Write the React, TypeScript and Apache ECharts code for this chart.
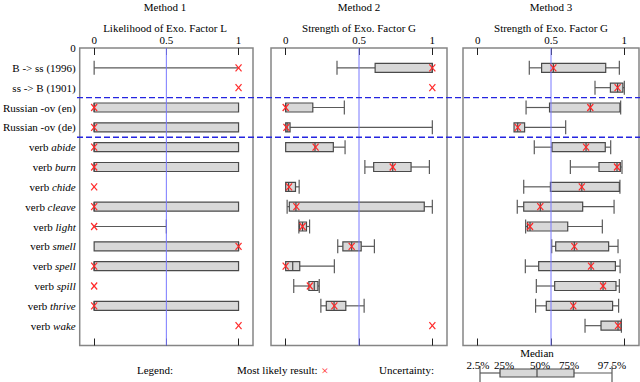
import React, { useEffect, useRef } from "react";
import * as echarts from "echarts";

const FONT = '"Liberation Serif", "Times New Roman", serif';

// Row labels (top to bottom)
const rowLabels = [
  "B -> ss (1996)",
  "ss -> B (1901)",
  "Russian -ov (en)",
  "Russian -ov (de)",
  "verb abide",
  "verb burn",
  "verb chide",
  "verb cleave",
  "verb light",
  "verb smell",
  "verb spell",
  "verb spill",
  "verb thrive",
  "verb wake",
];

const methodTitles = ["Method 1", "Method 2", "Method 3"];
const axisTitles = [
  "Likelihood of Exo. Factor L",
  "Strength of Exo. Factor G",
  "Strength of Exo. Factor G",
];
const xTickValues = [0, 0.5, 1];

// [2.5%, 25%, 50%, 75%, 97.5%]
const method1Boxes = [
  [0, 1, 1, 1, 1],
  [1, 1, 1, 1, 1],
  [0, 0, 0, 1, 1],
  [0, 0, 0, 1, 1],
  [0, 0, 0, 1, 1],
  [0, 0, 0, 1, 1],
  [0, 0, 0, 0, 0],
  [0, 0, 0, 1, 1],
  [0, 0, 0, 0, 0.5],
  [0, 0, 1, 1, 1],
  [0, 0, 0, 1, 1],
  [0, 0, 0, 0, 0],
  [0, 0, 0, 1, 1],
  [1, 1, 1, 1, 1],
];
const method1Best = [1, 1, 0, 0, 0, 0, 0, 0, 0, 1, 0, 0, 0, 1];

const method2Boxes = [
  [0.35, 0.61, 1, 1, 1],
  [1, 1, 1, 1, 1],
  [0, 0, 0, 0.185, 0.4],
  [0, 0, 0.01, 0.03, 1],
  [0, 0, 0.2, 0.325, 0.405],
  [0.54, 0.6, 0.73, 0.855, 0.98],
  [0, 0, 0.02, 0.067, 0.092],
  [0.01, 0.025, 0.07, 0.945, 1.0],
  [0.09, 0.094, 0.115, 0.142, 0.163],
  [0.355, 0.39, 0.45, 0.515, 0.605],
  [0, 0, 0.048, 0.096, 0.332],
  [0.055, 0.158, 0.195, 0.22, 0.229],
  [0.24, 0.277, 0.33, 0.41, 0.535],
  [1, 1, 1, 1, 1],
];
const method2Best = [1, 1, 0, 0.005, 0.204, 0.73, 0.023, 0.073, 0.115, 0.45, 0, 0.165, 0.332, 1];

const method3Boxes = [
  [0.352, 0.436, 0.516, 0.873, 0.966],
  [0.8, 0.905, 0.954, 0.99, 1.0],
  [0.33, 0.49, 0.768, 0.97, 0.975],
  [0.248, 0.248, 0.273, 0.32, 0.6],
  [0.386, 0.507, 0.739, 0.87, 0.907],
  [0.632, 0.827, 0.95, 0.973, 0.984],
  [0.314, 0.496, 0.71, 0.966, 0.97],
  [0.27, 0.314, 0.427, 0.716, 0.93],
  [0.327, 0.339, 0.357, 0.614, 0.85],
  [0.505, 0.532, 0.659, 0.893, 0.957],
  [0.325, 0.416, 0.773, 0.939, 0.971],
  [0.4, 0.525, 0.855, 0.943, 0.966],
  [0.395, 0.468, 0.652, 0.92, 0.961],
  [0.732, 0.841, 0.957, 0.977, 0.98],
];
const method3Best = [0.516, 0.954, 0.768, 0.273, 0.739, 0.95, 0.71, 0.427, 0.357, 0.659, 0.773, 0.855, 0.652, 0.957];

const separatorRows = [2.5, 4.5];
const referenceValue = 0.5;
const legendPercentLabels = ["2.5%", "25%", "50%", "75%", "97.5%"];

const allBoxes = [method1Boxes, method2Boxes, method3Boxes];
const allBest = [method1Best, method2Best, method3Best];

// layout
const TOP = 48;
const PLOT_H = 297.5;
const panels = [
  { left: 77, width: 176 },
  { left: 271, width: 176 },
  { left: 463, width: 176 },
];

const BOX_STROKE = "#4a4a4a";
const WHISKER = "#5a5a5a";
const BOX_FILL = "#d8d8d8";
const RED = "#ff2a2a";

function fmtRow(v: number) {
  if (v === 0) return "{n|0}";
  const s = rowLabels[v - 1];
  if (!s) return "";
  if (s.startsWith("verb ")) return "{n|verb} {i|" + s.slice(5) + "}";
  return "{n|" + s + "}";
}

function renderBox(params: any, api: any) {
  const y = api.value(0);
  const lo = api.value(1),
    q1 = api.value(2),
    med = api.value(3),
    q3 = api.value(4),
    hi = api.value(5);
  const c = (x: number) => api.coord([x, y]);
  const yc = c(lo)[1];
  const hb = 4.5;
  const hc = 7;
  const children: any[] = [];
  const ls = { stroke: WHISKER, lineWidth: 1.2 };
  if (q1 > lo) {
    const a = c(lo)[0],
      b = c(q1)[0];
    children.push({ type: "line", shape: { x1: a, y1: yc, x2: b, y2: yc }, style: ls });
    children.push({ type: "line", shape: { x1: a, y1: yc - hc, x2: a, y2: yc + hc }, style: ls });
  }
  if (hi > q3) {
    const a = c(q3)[0],
      b = c(hi)[0];
    children.push({ type: "line", shape: { x1: a, y1: yc, x2: b, y2: yc }, style: ls });
    children.push({ type: "line", shape: { x1: b, y1: yc - hc, x2: b, y2: yc + hc }, style: ls });
  }
  if (q3 > q1) {
    const a = c(q1)[0],
      b = c(q3)[0],
      m = c(med)[0];
    children.push({
      type: "rect",
      shape: { x: a, y: yc - hb, width: b - a, height: hb * 2 },
      style: { fill: BOX_FILL, stroke: BOX_STROKE, lineWidth: 1.2 },
    });
    children.push({
      type: "line",
      shape: { x1: m, y1: yc - hb, x2: m, y2: yc + hb },
      style: { stroke: BOX_STROKE, lineWidth: 1.2 },
    });
  }
  return { type: "group", children };
}

function renderCross(params: any, api: any) {
  const p = api.coord([api.value(0), api.value(1)]);
  const w = 3,
    h = 3.5;
  const st = { stroke: RED, lineWidth: 1.2 };
  return {
    type: "group",
    children: [
      { type: "line", shape: { x1: p[0] - w, y1: p[1] - h, x2: p[0] + w, y2: p[1] + h }, style: st },
      { type: "line", shape: { x1: p[0] - w, y1: p[1] + h, x2: p[0] + w, y2: p[1] - h }, style: st },
    ],
  };
}

function renderRef(params: any, api: any) {
  const x = api.coord([api.value(0), 0])[0];
  const cs = params.coordSys;
  return {
    type: "line",
    shape: { x1: x, y1: cs.y, x2: x, y2: cs.y + cs.height },
    style: { stroke: "#7878ff", lineWidth: 1 },
  };
}

function renderSep(params: any, api: any) {
  const y = api.coord([0, api.value(1)])[1];
  const cs = params.coordSys;
  return {
    type: "line",
    shape: { x1: cs.x, y1: y, x2: cs.x + cs.width, y2: y },
    style: { stroke: "#2424e0", lineWidth: 1.3, lineDash: [6, 3] },
  };
}

export default function App() {
  const ref = useRef<HTMLDivElement>(null);
  useEffect(() => {
    if (!ref.current) return;
    const chart = echarts.init(ref.current, undefined, { renderer: "svg" });

    const grid: any[] = panels.map((p) => ({
      left: p.left,
      top: TOP,
      width: p.width,
      height: PLOT_H,
      show: true,
      borderColor: "#858585",
      borderWidth: 1.5,
      backgroundColor: "transparent",
    }));
    grid.push({ left: panels[0].left, top: TOP, width: 640 - panels[0].left, height: PLOT_H, show: false });

    const xAxis: any[] = [];
    const yAxis: any[] = [];
    panels.forEach((p, i) => {
      const base = {
        gridIndex: i,
        type: "value",
        min: -0.1,
        max: 1.1,
        axisLine: { show: false },
        splitLine: { show: false },
        axisTick: {
          show: true,
          inside: true,
          length: 7,
          customValues: xTickValues,
          lineStyle: { color: "#222", width: 1 },
        },
      };
      xAxis.push({
        ...base,
        position: "top",
        axisLabel: {
          customValues: xTickValues,
          formatter: (v: number) => (v === 0.5 ? "0.5" : String(v)),
          fontFamily: FONT,
          fontSize: 11,
          color: "#000",
          margin: 3,
        },
      });
      xAxis.push({ ...base, position: "bottom", axisLabel: { show: false } });
      yAxis.push({
        gridIndex: i,
        type: "value",
        min: 0,
        max: 15,
        interval: 1,
        inverse: true,
        axisLine: { show: false },
        axisTick: { show: false },
        splitLine: { show: false },
        axisLabel: {
          show: i === 0,
          margin: 4,
          color: "#000",
          fontFamily: FONT,
          fontSize: 11,
          formatter: (v: number) => fmtRow(v),
          rich: {
            n: { fontFamily: FONT, fontSize: 11, color: "#000" },
            i: { fontFamily: FONT, fontSize: 11, color: "#000", fontStyle: "italic" },
          },
        },
      });
    });
    xAxis.push({ gridIndex: 3, type: "value", min: 0, max: 1, show: false });
    yAxis.push({ gridIndex: 3, type: "value", min: 0, max: 15, inverse: true, show: false });

    const series: any[] = [];
    panels.forEach((p, i) => {
      series.push({
        type: "custom",
        xAxisIndex: 2 * i,
        yAxisIndex: i,
        z: 2,
        clip: false,
        renderItem: renderBox,
        encode: { x: [1, 2, 3, 4, 5], y: 0 },
        data: allBoxes[i].map((b, r) => [r + 1, ...b]),
      });
      series.push({
        type: "custom",
        xAxisIndex: 2 * i,
        yAxisIndex: i,
        z: 3,
        clip: false,
        renderItem: renderRef,
        encode: { x: 0, y: 1 },
        data: [[referenceValue, 0]],
      });
      series.push({
        type: "custom",
        xAxisIndex: 2 * i,
        yAxisIndex: i,
        z: 4,
        clip: false,
        renderItem: renderCross,
        encode: { x: 0, y: 1 },
        data: allBest[i].map((v, r) => [v, r + 1]),
      });
    });
    series.push({
      type: "custom",
      xAxisIndex: 6,
      yAxisIndex: 3,
      z: 5,
      clip: false,
      renderItem: renderSep,
      encode: { x: 0, y: 1 },
      data: separatorRows.map((r) => [0, r]),
    });

    const txt = (text: string, x: number, y: number, align = "center", size = 11, fill = "#000") => ({
      type: "text",
      x,
      y,
      style: { text, font: `${size}px ${FONT}`, fill, align, verticalAlign: "middle" },
    });

    const graphic: any[] = [];
    panels.forEach((p, i) => {
      const cx = p.left + p.width * (0.5 + 0.1) / 1.2;
      graphic.push(txt(methodTitles[i], cx, 7));
      graphic.push(txt(axisTitles[i], cx, 28));
    });
    // legend
    graphic.push(txt("Legend:", 155, 370));
    graphic.push(txt("Most likely result:", 237, 370, "left"));
    graphic.push(txt("\u00d7", 325, 370, "center", 13, RED));
    graphic.push(txt("Uncertainty:", 379, 370, "left"));
    const lx = [480, 500, 537, 574, 612];
    const ly = 373;
    const ls = { stroke: WHISKER, lineWidth: 1.2 };
    graphic.push({ type: "line", shape: { x1: lx[0], y1: ly, x2: lx[1], y2: ly }, style: ls });
    graphic.push({ type: "line", shape: { x1: lx[3], y1: ly, x2: lx[4], y2: ly }, style: ls });
    graphic.push({ type: "line", shape: { x1: lx[0], y1: 366, x2: lx[0], y2: 382 }, style: ls });
    graphic.push({ type: "line", shape: { x1: lx[4], y1: 366, x2: lx[4], y2: 382 }, style: ls });
    graphic.push({
      type: "rect",
      shape: { x: lx[1], y: ly - 4, width: lx[3] - lx[1], height: 8 },
      style: { fill: BOX_FILL, stroke: BOX_STROKE, lineWidth: 1.2 },
    });
    graphic.push({ type: "line", shape: { x1: lx[2], y1: ly - 4, x2: lx[2], y2: ly + 4 }, style: { stroke: BOX_STROKE, lineWidth: 1.2 } });
    graphic.push(txt("Median", 537, 353));
    const lxl = [478, 504, 540, 569, 612];
    legendPercentLabels.forEach((s, k) => graphic.push(txt(s, lxl[k], 364.5)));

    chart.setOption({
      animation: false,
      backgroundColor: "#fff",
      grid,
      xAxis,
      yAxis,
      series,
      graphic,
    });
    return () => chart.dispose();
  }, []);
  return <div ref={ref} style={{ position: "fixed", left: 0, top: 0, width: 640, height: 382 }} />;
}
